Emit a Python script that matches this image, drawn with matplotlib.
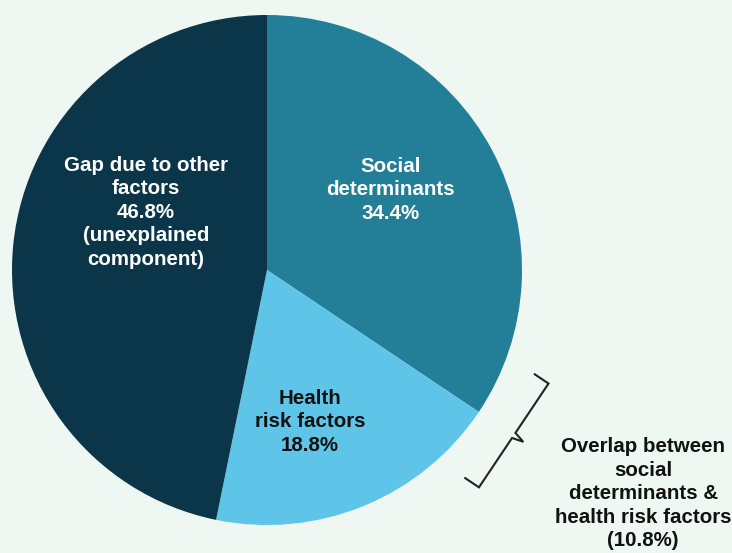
import numpy as np
import matplotlib
matplotlib.use('Agg')
import matplotlib.pyplot as plt

# shares of the gap (percent)
labels = ['Social\ndeterminants', 'Health\nrisk factors', 'Gap due to other\nfactors']
values = [34.4, 18.8, 46.8]
extra = ['', '', '\n(unexplained\ncomponent)']
overlap = 10.8

colors = ['#237F98', '#5FC5E8', '#0B3649']
text_colors = ['white', '#111111', 'white']
label_pos = [(0.486, 0.314), (0.169, -0.596), (-0.475, 0.227)]
bg = '#EEF7F2'

plt.rcParams['font.family'] = ['Liberation Sans', 'DejaVu Sans']

fig = plt.figure(figsize=(7.32, 5.53), dpi=100)
fig.patch.set_facecolor(bg)
ax = fig.add_axes([12 / 732, 28 / 553, 510 / 732, 510 / 553])
ax.set_facecolor(bg)

ax.pie(values, colors=colors, startangle=90, counterclock=False, radius=1,
       wedgeprops=dict(linewidth=0))
ax.set_xlim(-1, 1)
ax.set_ylim(-1, 1)
ax.set_aspect('equal')
ax.axis('off')

for lab, v, ex, tc, (x, y) in zip(labels, values, extra, text_colors, label_pos):
    ax.text(x, y, f'{lab}\n{v}%{ex}', ha='center', va='center', color=tc,
            fontsize=14.8, fontweight='bold', linespacing=1.3)

# curly bracket at the boundary between social determinants and health risk factors
theta = np.deg2rad(90 - values[0] / 100 * 360)
rad = np.array([np.cos(theta), np.sin(theta)])
tan = np.array([-np.sin(theta), np.cos(theta)])
r0, half, hook, notch = 1.165, 0.245, 0.065, 0.045
mid = rad * r0
top = mid + tan * half
bot = mid - tan * half
pts = [top - rad * hook, top, mid + tan * 0.012, mid + rad * notch,
       mid - tan * 0.012, bot, bot - rad * hook]
pts = np.array(pts)
ax.plot(pts[:, 0], pts[:, 1], color='#222222', lw=1.5, clip_on=False,
        solid_joinstyle='miter')

ax.text(1.475, -0.878, f'Overlap between\nsocial\ndeterminants &\nhealth risk factors\n({overlap}%)',
        ha='center', va='center', fontsize=14.8, fontweight='bold',
        color='#111111', linespacing=1.3, clip_on=False)

fig.savefig('out.png', dpi=100, facecolor=bg)
